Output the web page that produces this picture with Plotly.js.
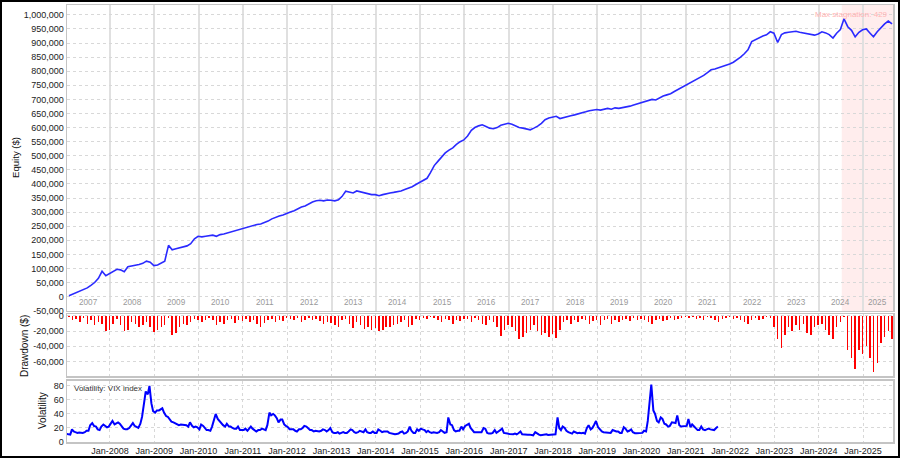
<!DOCTYPE html>
<html><head><meta charset="utf-8">
<script src="https://cdn.plot.ly/plotly-3.0.1.min.js"></script>
<style>
html,body{margin:0;padding:0;background:#fff}
#wrap{position:relative;width:900px;height:458px}
#chart{width:900px;height:458px}
#frame{position:absolute;left:0;top:0;width:900px;height:458px;box-sizing:border-box;border:2px solid #000;pointer-events:none}
</style>
</head><body><div id="wrap"><div id="chart"></div><div id="frame"></div></div>
<script>
// ---------- DATA ----------
const firstYear = 2007;
// Equity, thousands of $, one value per month from Jan 2007 to Aug 2025
const equityK = [
  3, 9, 13, 18, 25, 31, 40, 50, 65, 90, 74, 82,
  88, 97, 95, 88, 106, 108, 112, 114, 118, 126, 122, 110,
  112, 118, 126, 182, 166, 170, 173, 176, 180, 188, 205, 214,
  212, 214, 216, 218, 214, 220, 222, 226, 230, 232, 238, 242,
  245, 248, 252, 256, 258, 262, 268, 276, 282, 286, 290, 296,
  300, 305, 312, 318, 322, 330, 336, 340, 342, 340, 343, 342,
  340, 344, 355, 374, 372, 368, 375, 372, 368, 366, 362, 362,
  358, 362, 366, 368, 370, 372, 375, 380, 384, 390, 398, 405,
  412, 420, 440, 465, 480, 495, 510, 520, 528, 540, 550, 556,
  570, 590, 600, 606, 610, 604, 598, 596, 600, 608, 612, 615,
  612, 606, 600, 598, 596, 592, 598, 605, 615, 628, 634, 636,
  640, 632, 636, 640, 642, 645, 648, 652, 656, 660, 662, 664,
  662, 666, 668, 665, 670, 668, 670, 672, 676, 680, 684, 688,
  690, 695, 700, 698, 705, 712, 716, 720, 728, 735, 742, 750,
  756, 762, 770, 778, 785, 795, 805, 808, 812, 816, 820, 826,
  832, 840, 850, 862, 876, 905, 912, 918, 925, 929, 940, 935,
  902, 930, 936, 938, 940, 942, 938, 936, 934, 930, 928, 932,
  940, 936, 930, 918, 935, 948, 986, 958, 945, 922, 938, 947,
  950, 935, 922, 940, 954, 968, 978, 968
];
// Drawdown, thousands of $, one value per month from Jan 2007 to Aug 2025
const drawdownK = [
  -2, -6, -4, -8, -3, -10, -6, -12, -8, -10, -20, -18,
  -10, -4, -12, -20, -19, -8, -10, -14, -12, -8, -15, -21,
  -18, -14, -12, -3, -25, -22, -14, -10, -12, -8, -4, -6,
  -8, -5, -3, -6, -12, -8, -10, -6, -4, -9, -5, -7,
  -4, -8, -6, -10, -14, -9, -6, -4, -8, -5, -7, -3,
  -4, -6, -3, -8, -5, -3, -6, -4, -7, -10, -8, -9,
  -12, -14, -6, -4, -10, -16, -8, -12, -17, -15, -18, -16,
  -20, -18, -15, -14, -12, -10, -8, -6, -15, -12, -4, -6,
  -3, -4, -2, -3, -5, -8, -4, -6, -10, -5, -7, -4,
  -4, -8, -3, -6, -10, -12, -5, -8, -15, -26, -18, -12,
  -15, -20, -30, -28, -22, -18, -12, -20, -25, -22, -28, -24,
  -29, -18, -8, -6, -10, -5, -8, -4, -6, -10, -7, -5,
  -12, -6, -4, -10, -5, -8, -6, -4, -7, -3, -5, -4,
  -5, -8, -10, -6, -4, -7, -5, -3, -6, -4, -3, -2,
  -3, -2, -4, -3, -5, -2, -3, -6, -8, -4, -3, -2,
  -4, -3, -6, -8, -10, -5, -3, -6, -4, -2, -3, -15,
  -30, -42, -25, -15, -20, -12, -18, -10, -22, -25, -15, -12,
  -10, -18, -25, -30, -15, -8, -2, -45, -55, -70, -45, -50,
  -40, -55, -74, -62, -35, -28, -20, -30
];
// VIX index, two readings per month (early / late) from Jan 2007 to Sep 2021
const vix = [
  11.5, 11, 10.5, 18, 15, 14, 13, 13.5, 13, 13, 14, 16, 16, 24, 27, 23, 22, 18, 17, 22, 25, 23, 21, 22,
  26, 30, 25, 26, 28, 26, 22, 19, 18, 18, 20, 23, 27, 23, 21, 20, 26, 36, 55, 72, 68, 80, 55, 44,
  42, 45, 45, 46, 48, 42, 37, 36, 32, 29, 28, 27, 26, 24, 25, 25, 24, 24, 22, 28, 23, 21, 22, 21,
  18, 25, 23, 19, 17, 17, 16, 22, 32, 40, 33, 30, 26, 24, 22, 26, 22, 22, 20, 19, 19, 22, 17, 17,
  17, 19, 16, 19, 22, 19, 16, 15, 17, 17, 19, 18, 17, 24, 42, 38, 40, 38, 34, 28, 32, 32, 25, 23,
  21, 18, 18, 18, 16, 15, 18, 18, 20, 23, 22, 19, 17, 17, 15, 16, 15, 15, 16, 18, 17, 15, 17, 20,
  14, 13, 13, 14, 12, 13, 14, 13, 13, 15, 18, 17, 14, 13, 14, 16, 15, 14, 18, 14, 13, 13, 15, 13,
  13, 18, 16, 14, 15, 15, 15, 13, 12, 12, 11, 11.5, 12, 14, 15, 12, 13, 15, 22, 16, 13, 13, 18, 16,
  19, 18, 17, 14, 16, 14, 13, 14, 13, 13, 14, 17, 15, 13, 14, 35, 25, 24, 17, 15, 16, 16, 22, 18,
  23, 24, 26, 20, 16, 14, 14, 14, 15, 14, 20, 19, 13, 12, 12, 13, 17, 13, 15, 17, 19, 13, 12, 12,
  11.5, 11, 11, 12, 11, 12.5, 15, 11, 10.5, 10.5, 10.5, 10.5, 10, 9.5, 14, 12, 10.5, 9.5, 10, 10, 11, 10, 10, 10,
  10, 11, 35, 20, 17, 22, 20, 16, 14, 13, 12, 15, 13, 12.5, 13, 12.5, 13, 12, 20, 24, 18, 20, 25, 30,
  21, 18, 15, 14, 14, 14, 13, 13, 17, 16, 15, 15, 13, 13, 21, 19, 15, 16, 18, 14, 12.5, 12.5, 12.5, 13,
  13, 16, 15, 30, 62, 82, 45, 40, 30, 28, 35, 33, 26, 25, 22, 23, 28, 27, 27, 38, 24, 22, 22, 22,
  23, 33, 21, 25, 22, 19, 17, 17, 22, 18, 17, 18, 19, 18, 17, 17, 20, 22
];
const yearLabels = ['2007','2008','2009','2010','2011','2012','2013','2014','2015','2016','2017','2018','2019','2020','2021','2022','2023','2024','2025'];
const eqTickVals = [-50000,0,50000,100000,150000,200000,250000,300000,350000,400000,450000,500000,550000,600000,650000,700000,750000,800000,850000,900000,950000,1000000];
const ddTickVals = [-60000,-40000,-20000,0];
const volTickVals = [0,20,40,60,80];
const stagnationStart = '2024-07-10';
const stagnationText = 'Max stagnation: 429';
const volLabel = 'Volatility: VIX index';

// ---------- fonts ----------
const FONT = '"Liberation Sans", Arial, sans-serif';

// ---------- helpers ----------
const pad = n => String(n).padStart(2,'0');
const monthDates = (n, day) => Array.from({length:n}, (_,i) => `${firstYear + Math.floor(i/12)}-${pad(i%12+1)}-${pad(day)}`);
const halfMonthDates = n => Array.from({length:n}, (_,i) => {
  const m = Math.floor(i/2);
  return `${firstYear + Math.floor(m/12)}-${pad(m%12+1)}-${i%2 ? '22' : '08'}`;
});
const fmt = v => (v < 0 ? '-' : '') + Math.abs(v).toLocaleString('en-US');

const xRange = ['2007-01-12','2025-09-05'];
const eqDates = monthDates(equityK.length, 28);
const ddDates = monthDates(drawdownK.length, 28);
const vixDates = halfMonthDates(vix.length);

const traces = [
  {x: eqDates, y: equityK.map(v => v*1000), type:'scatter', mode:'lines',
   line:{color:'#2a2aff', width:1.6}, xaxis:'x', yaxis:'y', hoverinfo:'skip'},
  {x: ddDates, y: drawdownK.map(v => v*1000), type:'bar', marker:{color:'#ff0000', line:{width:0}},
   width: 12*86400000, xaxis:'x2', yaxis:'y2', hoverinfo:'skip'},
  {x: vixDates, y: vix, type:'scatter', mode:'lines', line:{color:'#0000ff', width:2},
   xaxis:'x3', yaxis:'y3', hoverinfo:'skip'}
];

const tickFont = {family:FONT, size:9, color:'#222'};
const frameAxis = {showline:true, linecolor:'#c4c4c4', linewidth:1.5, mirror:true, zeroline:false, ticks:'', fixedrange:true, tickfont:tickFont};
const annotations = [];
yearLabels.forEach((t,i) => {
  const y = +t;
  const a = Math.max(Date.parse(`${y}-01-01`), Date.parse(xRange[0]));
  const b = Math.min(Date.parse(`${y+1}-01-01`), Date.parse(xRange[1]));
  const mid = new Date((a+b)/2).toISOString().slice(0,10);
  annotations.push({x: mid, y: 0.028, xref:'x', yref:'y domain', text:t, showarrow:false,
    font:{family:FONT, size:8.2, color:'#9a9a9a'}, xanchor:'center', yanchor:'middle'});
});
annotations.push({x:0.996, y:0.992, xref:'paper', yref:'paper', text:stagnationText, showarrow:false,
  xanchor:'right', yanchor:'top', font:{family:FONT, size:8, color:'#ffb3b3'}});
annotations.push({x:0.006, y:0.985, xref:'x3 domain', yref:'y3 domain', text:volLabel, showarrow:false,
  xanchor:'left', yanchor:'top', font:{family:FONT, size:8, color:'#333'}});
annotations.push({x:-0.0617, y:0.65, xref:'paper', yref:'paper', text:'Equity ($)', showarrow:false,
  textangle:-90, xanchor:'center', yanchor:'middle', font:{family:FONT, size:9.6, color:'#111'}});
annotations.push({x:-0.0508, y:0.2197, xref:'paper', yref:'paper', text:'Drawdown ($)', showarrow:false,
  textangle:-90, xanchor:'center', yanchor:'middle', font:{family:FONT, size:10, color:'#111'}});
annotations.push({x:-0.029, y:0.071, xref:'paper', yref:'paper', text:'Volatility', showarrow:false,
  textangle:-90, xanchor:'center', yanchor:'middle', font:{family:FONT, size:10, color:'#111'}});

const layout = {
  width:900, height:458,
  margin:{l:67, r:7, t:5, b:16},
  paper_bgcolor:'#fff', plot_bgcolor:'#fff',
  font:{family:FONT, size:9, color:'#222'},
  showlegend:false, bargap:0,
  xaxis: Object.assign({}, frameAxis, {anchor:'y', type:'date', range:xRange, showticklabels:false,
    showgrid:true, gridcolor:'#e0e0e0', gridwidth:2, dtick:'M12', tick0:'2007-01-01'}),
  yaxis: Object.assign({}, frameAxis, {domain:[0.2998,1], range:[-51000,1035000],
    tickvals:eqTickVals, ticktext:eqTickVals.map(fmt), showgrid:true, gridcolor:'#d8d8d8', griddash:'dot', gridwidth:1}),
  xaxis2: Object.assign({}, frameAxis, {anchor:'y2', type:'date', range:xRange, showticklabels:false,
    showgrid:true, gridcolor:'#d8d8d8', griddash:'dot', dtick:'M12', tick0:'2008-01-01'}),
  yaxis2: Object.assign({}, frameAxis, {domain:[0.151,0.2929], range:[-79000,2500],
    tickvals:ddTickVals, ticktext:ddTickVals.map(fmt), showgrid:true, gridcolor:'#d8d8d8', griddash:'dot'}),
  xaxis3: Object.assign({}, frameAxis, {anchor:'y3', type:'date', range:xRange, tickformat:'%b-%Y',
    showgrid:true, gridcolor:'#d8d8d8', griddash:'dot', dtick:'M12', tick0:'2008-01-01'}),
  yaxis3: Object.assign({}, frameAxis, {domain:[0,0.1396], range:[0,87],
    tickvals:volTickVals, ticktext:volTickVals.map(String), showgrid:true, gridcolor:'#d8d8d8', griddash:'dot'}),
  shapes:[
    {type:'rect', xref:'x', yref:'y domain', x0:stagnationStart, x1:xRange[1], y0:0, y1:1,
     fillcolor:'rgba(255,60,60,0.09)', line:{width:0}, layer:'below'}
  ],
  annotations: annotations
};

Plotly.newPlot('chart', traces, layout, {displayModeBar:false, staticPlot:true});
</script>
</body></html>
